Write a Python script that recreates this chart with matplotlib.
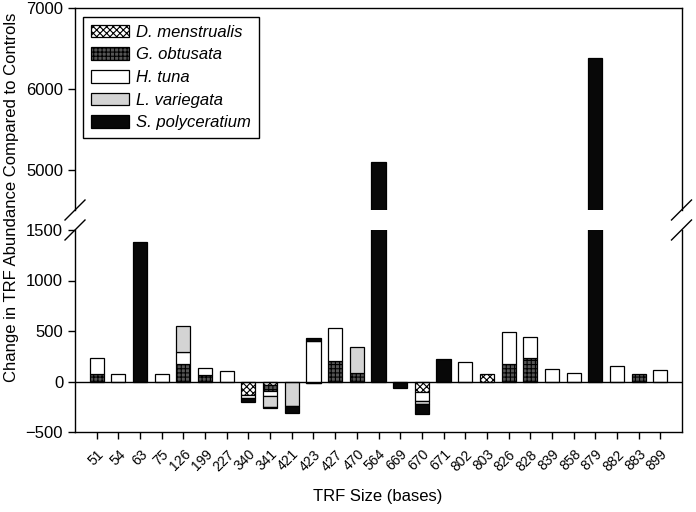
import numpy as np
import matplotlib
matplotlib.use('Agg')
import matplotlib.pyplot as plt
from matplotlib.lines import Line2D
from matplotlib.patches import Patch

plt.rcParams['font.family'] = ['Liberation Sans', 'DejaVu Sans']
plt.rcParams['hatch.linewidth'] = 0.8

cats = ['51', '54', '63', '75', '126', '199', '227', '340', '341', '421', '423', '427', '470', '564',
        '669', '670', '671', '802', '803', '826', '828', '839', '858', '879', '882', '883', '899']

# one value per TRF, stacked in this order
menstrualis = [0, 0, 0, 0, 0, 0, 0, -135, -35, 0, 0, 0, 0, 0,
               0, -100, 0, 0, 79, 0, 0, 0, 0, 0, 0, 0, 0]
obtusata = [73, 0, 0, 0, 175, 66, 0, 0, -60, 0, -16, 205, 89, 0,
            0, 0, 0, 0, 0, 175, 231, 0, 0, 0, 0, 76, 0]
tuna = [164, 76, 0, 76, 122, 63, 106, -25, -49, 0, 421, 323, 0, 0,
        0, -98, 0, 198, 0, 313, 211, 122, 86, 0, 158, 0, 112]
variegata = [0, 0, 0, 0, 257, 0, 0, 0, -105, -247, 0, 0, 257, 0,
             0, -23, 0, 0, 0, 0, 0, 0, 0, 0, 0, 0, 0]
polyceratium = [0, 0, 1385, 0, 0, 0, 0, -40, -17, -66, 24, 0, 0, 5100,
                -62, -99, 224, 0, 0, 0, 0, 0, 0, 6380, 0, 0, 0]

species = ['D. menstrualis', 'G. obtusata', 'H. tuna', 'L. variegata', 'S. polyceratium']
series = [menstrualis, obtusata, tuna, variegata, polyceratium]
styles = [dict(facecolor='white', hatch='xxxxx'),
          dict(facecolor='#555555', hatch='++++'),
          dict(facecolor='white', hatch=None),
          dict(facecolor='#d4d4d4', hatch=None),
          dict(facecolor='#080808', hatch=None)]

W, H = 696, 512
fig = plt.figure(figsize=(W / 100, H / 100), dpi=100)

def px(x0, y0, x1, y1):
    return [x0 / W, 1 - y1 / H, (x1 - x0) / W, (y1 - y0) / H]

ax_top = fig.add_axes(px(75, 8, 682, 210))
ax_bot = fig.add_axes(px(75, 230, 682, 432))

x = np.arange(len(cats))
bottom = np.zeros(len(cats))
for vals, st in zip(series, styles):
    vals = np.array(vals, dtype=float)
    m = vals != 0
    for ax in (ax_top, ax_bot):
        ax.bar(x[m], vals[m], bottom=bottom[m], width=0.65, edgecolor='black',
               linewidth=0.9, facecolor=st['facecolor'], hatch=st['hatch'])
    bottom = bottom + vals

ax_top.set_ylim(4500, 7000)
ax_bot.set_ylim(-500, 1500)
for ax in (ax_top, ax_bot):
    ax.set_xlim(-1, 27)
ax_bot.axhline(0, color='black', linewidth=1)

ax_top.spines['bottom'].set_visible(False)
ax_bot.spines['top'].set_visible(False)
ax_top.set_xticks([])
ax_top.set_yticks([5000, 6000, 7000])
ax_bot.set_yticks([-500, 0, 500, 1000, 1500])
ax_bot.set_xticks(x)
ax_bot.set_xticklabels(cats, rotation=45, ha='right', rotation_mode='anchor', fontsize=10)
for ax in (ax_top, ax_bot):
    ax.tick_params(axis='y', labelsize=12, direction='out', length=5, width=1)
    for s in ax.spines.values():
        s.set_linewidth(1)
ax_bot.tick_params(axis='x', direction='out', length=5, width=1, pad=6)

# break marks
for xc in (75, 681.5):
    for yc in (210, 230):
        fig.add_artist(Line2D([(xc - 10) / W, (xc + 10) / W], [1 - (yc + 10) / H, 1 - (yc - 10) / H],
                              color='black', linewidth=1))

fig.text(12 / W, 1 - 197 / H, 'Change in TRF Abundance Compared to Controls', rotation=90,
         ha='center', va='center', fontsize=12)
fig.text(378 / W, 1 - 496 / H, 'TRF Size (bases)', ha='center', va='center', fontsize=12)

handles = [Patch(facecolor=st['facecolor'], hatch=st['hatch'], edgecolor='black', linewidth=0.9)
           for st in styles]
leg = ax_top.legend(handles, species, loc='upper left', bbox_to_anchor=(83 / W, 1 - 17 / H),
                    bbox_transform=fig.transFigure, borderaxespad=0, fancybox=False,
                    edgecolor='black', prop={'style': 'italic', 'size': 12},
                    handlelength=2.3, handleheight=0.8, handletextpad=0.45,
                    labelspacing=0.45, borderpad=0.45, framealpha=1)
leg.get_frame().set_linewidth(1)

fig.savefig('out.png', dpi=100)
